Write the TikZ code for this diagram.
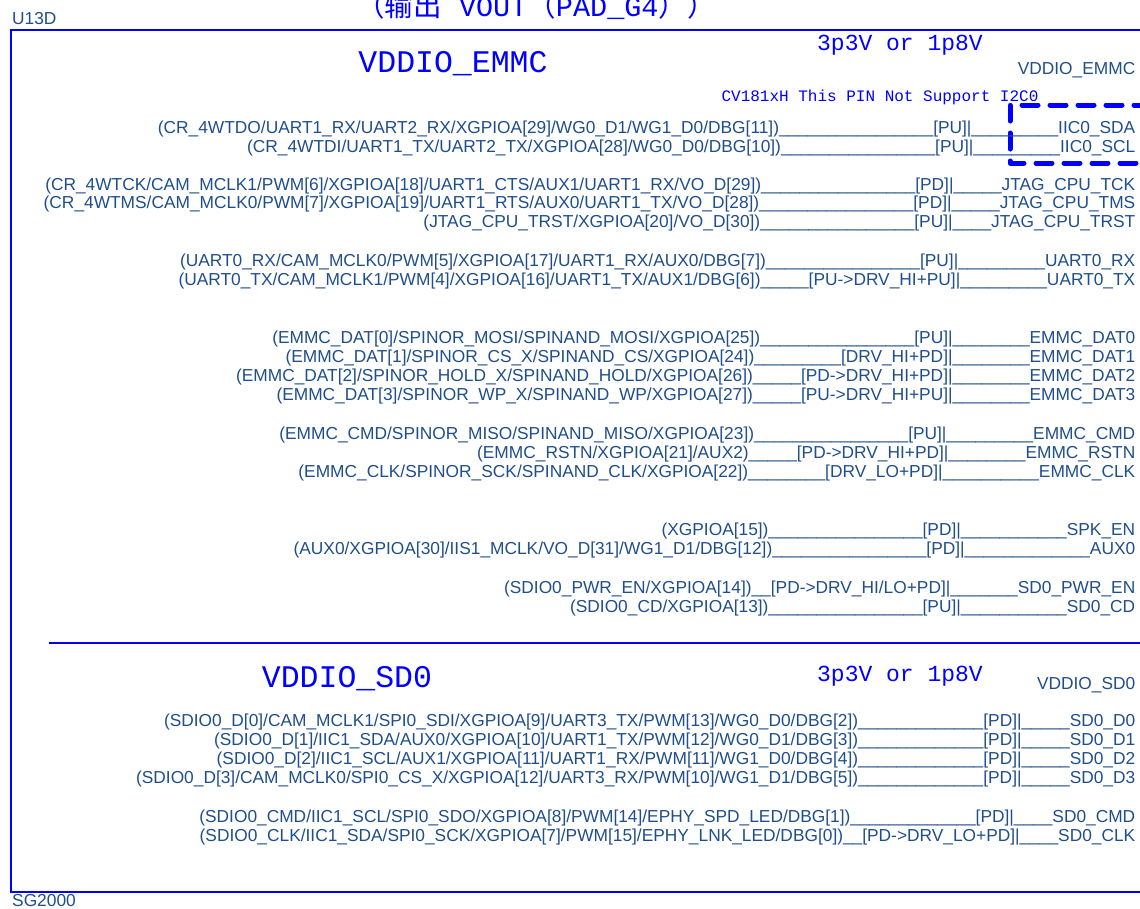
\documentclass[tikz,border=0pt]{standalone}
\usepackage{fontspec}
\setmainfont{Liberation Sans}
\newfontfamily\monofnt{Liberation Mono}
\newfontfamily\cjkfnt{Noto Sans CJK SC}
\definecolor{pintext}{RGB}{31,78,140}
\definecolor{schblue}{RGB}{0,0,255}
\ExplSyntaxOn
\NewDocumentCommand\U{m}{\prg_replicate:nn{#1}{\_}}
\ExplSyntaxOff
\catcode`\_=12
\tikzset{
  pinrow/.style={anchor=base east, inner sep=0pt, text=pintext, font=\fontsize{17.33}{19}\selectfont},
  plainlbl/.style={anchor=base west, inner sep=0pt, text=pintext, font=\fontsize{17.33}{19}\selectfont},
  bigmono/.style={anchor=base, inner sep=0pt, text=schblue, font=\monofnt\fontsize{31.5}{31.5}\selectfont},
  midmono/.style={anchor=base, inner sep=0pt, text=schblue, font=\monofnt\fontsize{23}{23}\selectfont},
  smallmono/.style={anchor=base, inner sep=0pt, text=schblue, font=\monofnt\fontsize{16}{16}\selectfont},
  frame/.style={draw=schblue, line width=2pt},
  dashbox/.style={draw=schblue, line width=5pt, dash pattern=on 16pt off 12pt, line cap=round, line join=round}
}
\begin{document}
\begin{tikzpicture}[x=1pt,y=-1pt]
\useasboundingbox (0,0) rectangle (1140,908);
% frame
\draw[frame] (1150,30) -- (11,30) -- (11,892) -- (1150,892);
\draw[frame] (49,643) -- (1150,643);
\draw[dashbox] (1150,105) -- (1010,105) -- (1010,163) -- (1150,163);
% labels
\node[plainlbl] (u13d) at (12,24) {U13D};
\node[plainlbl] (sg) at (12,906) {SG2000};
\node[anchor=base, inner sep=0pt, text=schblue, font=\fontsize{28.5}{28.5}\selectfont] (note) at (536,16)
  {{\cjkfnt （输出}{\monofnt\ VOUT}{\cjkfnt （}{\monofnt PAD_G4}{\cjkfnt ））}};
\node[bigmono] (vemmc) at (453,72) {VDDIO_EMMC};
\node[midmono] (volt1) at (900,50) {3p3V or 1p8V};
\node[pinrow] (lblemmc) at (1135.5,74) {VDDIO_EMMC};
\node[smallmono] (cvnote) at (880,101) {CV181xH This PIN Not Support I2C0};
\node[bigmono] (vsd) at (347,687) {VDDIO_SD0};
\node[midmono] (volt2) at (900,681) {3p3V or 1p8V};
\node[pinrow] (lblsd) at (1135.5,689) {VDDIO_SD0};
% pin rows
\node[pinrow] (r1) at (1135.5,133) {(CR_4WTDO/UART1_RX/UART2_RX/XGPIOA[29]/WG0_D1/WG1_D0/DBG[11])\U{16}[PU]|\U{9}IIC0_SDA};
\node[pinrow] (r2) at (1135.5,152) {(CR_4WTDI/UART1_TX/UART2_TX/XGPIOA[28]/WG0_D0/DBG[10])\U{16}[PU]|\U{9}IIC0_SCL};
\node[pinrow] (r3) at (1135.5,190) {(CR_4WTCK/CAM_MCLK1/PWM[6]/XGPIOA[18]/UART1_CTS/AUX1/UART1_RX/VO_D[29])\U{16}[PD]|\U{5}JTAG_CPU_TCK};
\node[pinrow] (r4) at (1135.5,208) {(CR_4WTMS/CAM_MCLK0/PWM[7]/XGPIOA[19]/UART1_RTS/AUX0/UART1_TX/VO_D[28])\U{16}[PD]|\U{5}JTAG_CPU_TMS};
\node[pinrow] (r5) at (1135.5,227) {(JTAG_CPU_TRST/XGPIOA[20]/VO_D[30])\U{16}[PU]|\U{4}JTAG_CPU_TRST};
\node[pinrow] (r6) at (1135.5,266) {(UART0_RX/CAM_MCLK0/PWM[5]/XGPIOA[17]/UART1_RX/AUX0/DBG[7])\U{16}[PU]|\U{9}UART0_RX};
\node[pinrow] (r7) at (1135.5,285) {(UART0_TX/CAM_MCLK1/PWM[4]/XGPIOA[16]/UART1_TX/AUX1/DBG[6])\U{5}[PU->DRV_HI+PU]|\U{9}UART0_TX};
\node[pinrow] (r8) at (1135.5,343) {(EMMC_DAT[0]/SPINOR_MOSI/SPINAND_MOSI/XGPIOA[25])\U{16}[PU]|\U{8}EMMC_DAT0};
\node[pinrow] (r9) at (1135.5,362) {(EMMC_DAT[1]/SPINOR_CS_X/SPINAND_CS/XGPIOA[24])\U{9}[DRV_HI+PD]|\U{8}EMMC_DAT1};
\node[pinrow] (r10) at (1135.5,381) {(EMMC_DAT[2]/SPINOR_HOLD_X/SPINAND_HOLD/XGPIOA[26])\U{5}[PD->DRV_HI+PD]|\U{8}EMMC_DAT2};
\node[pinrow] (r11) at (1135.5,400) {(EMMC_DAT[3]/SPINOR_WP_X/SPINAND_WP/XGPIOA[27])\U{5}[PU->DRV_HI+PU]|\U{8}EMMC_DAT3};
\node[pinrow] (r12) at (1135.5,439) {(EMMC_CMD/SPINOR_MISO/SPINAND_MISO/XGPIOA[23])\U{16}[PU]|\U{9}EMMC_CMD};
\node[pinrow] (r13) at (1135.5,458) {(EMMC_RSTN/XGPIOA[21]/AUX2)\U{5}[PD->DRV_HI+PD]|\U{8}EMMC_RSTN};
\node[pinrow] (r14) at (1135.5,477) {(EMMC_CLK/SPINOR_SCK/SPINAND_CLK/XGPIOA[22])\U{8}[DRV_LO+PD]|\U{10}EMMC_CLK};
\node[pinrow] (r15) at (1135.5,535) {(XGPIOA[15])\U{16}[PD]|\U{11}SPK_EN};
\node[pinrow] (r16) at (1135.5,554) {(AUX0/XGPIOA[30]/IIS1_MCLK/VO_D[31]/WG1_D1/DBG[12])\U{16}[PD]|\U{13}AUX0};
\node[pinrow] (r17) at (1135.5,593) {(SDIO0_PWR_EN/XGPIOA[14])\U{2}[PD->DRV_HI/LO+PD]|\U{7}SD0_PWR_EN};
\node[pinrow] (r18) at (1135.5,612) {(SDIO0_CD/XGPIOA[13])\U{16}[PU]|\U{11}SD0_CD};
\node[pinrow] (r19) at (1135.5,726) {(SDIO0_D[0]/CAM_MCLK1/SPI0_SDI/XGPIOA[9]/UART3_TX/PWM[13]/WG0_D0/DBG[2])\U{13}[PD]|\U{5}SD0_D0};
\node[pinrow] (r20) at (1135.5,745) {(SDIO0_D[1]/IIC1_SDA/AUX0/XGPIOA[10]/UART1_TX/PWM[12]/WG0_D1/DBG[3])\U{13}[PD]|\U{5}SD0_D1};
\node[pinrow] (r21) at (1135.5,764) {(SDIO0_D[2]/IIC1_SCL/AUX1/XGPIOA[11]/UART1_RX/PWM[11]/WG1_D0/DBG[4])\U{13}[PD]|\U{5}SD0_D2};
\node[pinrow] (r22) at (1135.5,783) {(SDIO0_D[3]/CAM_MCLK0/SPI0_CS_X/XGPIOA[12]/UART3_RX/PWM[10]/WG1_D1/DBG[5])\U{13}[PD]|\U{5}SD0_D3};
\node[pinrow] (r23) at (1135.5,822) {(SDIO0_CMD/IIC1_SCL/SPI0_SDO/XGPIOA[8]/PWM[14]/EPHY_SPD_LED/DBG[1])\U{13}[PD]|\U{4}SD0_CMD};
\node[pinrow] (r24) at (1135.5,841) {(SDIO0_CLK/IIC1_SDA/SPI0_SCK/XGPIOA[7]/PWM[15]/EPHY_LNK_LED/DBG[0])\U{2}[PD->DRV_LO+PD]|\U{4}SD0_CLK};
\end{tikzpicture}
\end{document}
